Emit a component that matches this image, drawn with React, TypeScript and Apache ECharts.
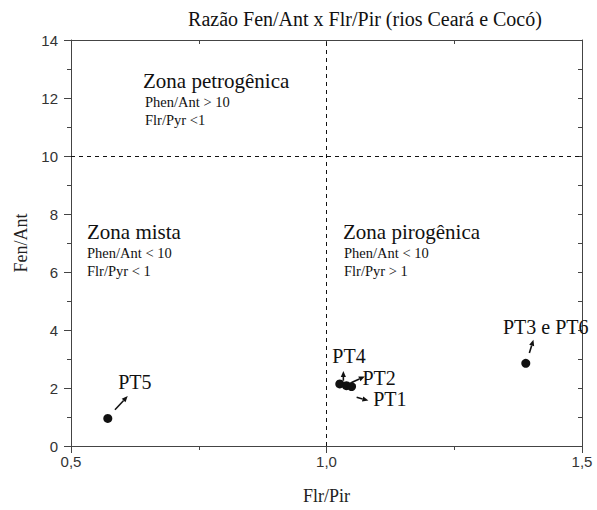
import React, { useEffect, useRef } from "react";
import * as echarts from "echarts";

// ---- data ----
const pointNames = ["PT5", "PT4", "PT1", "PT2", "PT3 e PT6"];
const flrPir = [0.572, 1.026, 1.039, 1.049, 1.39];
const fenAnt = [0.95, 2.14, 2.08, 2.05, 2.85];

const labelNames = ["PT5", "PT4", "PT2", "PT1", "PT3 e PT6"];
const labelX = [0.625, 1.044, 1.103, 1.124, 1.429];
const labelY = [2.19, 3.09, 2.36, 1.63, 4.11];

// arrows: start x, start y, end x, end y
const arrowX1 = [0.586, 1.033, 1.049, 1.059, 1.397];
const arrowY1 = [1.25, 2.25, 2.19, 1.68, 3.21];
const arrowX2 = [0.611, 1.033, 1.075, 1.082, 1.405];
const arrowY2 = [1.72, 2.59, 2.4, 1.57, 3.66];

const xTicks = [0.5, 1.0, 1.5];
const yTicks = [0, 2, 4, 6, 8, 10, 12, 14];
const xLimit = 1.0;
const yLimit = 10;

const SERIF = "Liberation Serif";
const SERIF2 = "Times New Roman";
const SANS = "Liberation Sans";
const AXIS_COLOR = "#444";

function txt(text: string, x: number, y: number, size: number, family: string, align = "left") {
  return {
    type: "text",
    x,
    y,
    style: {
      text,
      fontFamily: family,
      fontSize: size,
      fill: "#111",
      align,
      verticalAlign: "middle",
    },
  };
}

export default function App() {
  const ref = useRef<HTMLDivElement>(null);

  useEffect(() => {
    if (!ref.current) return;
    const chart = echarts.init(ref.current, null, { renderer: "svg" });

    const points = flrPir.map((x, i) => [x, fenAnt[i]]);
    const arrows = arrowX1.map((x, i) => [x, arrowY1[i], arrowX2[i], arrowY2[i]]);
    const labels = labelX.map((x, i) => [x, labelY[i]]);

    const option: any = {
      animation: false,
      backgroundColor: "#fff",
      grid: { left: 71, right: 15, top: 40, bottom: 57, containLabel: false },
      graphic: [
        txt("Razão Fen/Ant x Flr/Pir (rios Ceará e Cocó)", 365, 19, 20, SERIF, "center"),
        txt("Zona petrogênica", 143, 81, 21, SERIF2),
        txt("Phen/Ant > 10", 145, 102, 14.5, SERIF),
        txt("Flr/Pyr <1", 145, 120, 14.5, SERIF),
        txt("Zona mista", 87, 232, 21, SERIF2),
        txt("Phen/Ant < 10", 87, 253, 14.5, SERIF),
        txt("Flr/Pyr < 1", 87, 271, 14.5, SERIF),
        txt("Zona pirogênica", 343, 232, 21, SERIF2),
        txt("Phen/Ant < 10", 344, 253, 14.5, SERIF),
        txt("Flr/Pyr > 1", 344, 271, 14.5, SERIF),
      ],
      xAxis: [
        {
          type: "value",
          position: "bottom",
          min: xTicks[0],
          max: xTicks[xTicks.length - 1],
          interval: 0.5,
          name: "Flr/Pir",
          nameLocation: "middle",
          nameGap: 41,
          nameTextStyle: { fontFamily: SERIF, fontSize: 18, color: "#222" },
          axisLine: { show: true, onZero: false, lineStyle: { color: AXIS_COLOR, width: 1 } },
          axisTick: { show: true, inside: false, length: 7, lineStyle: { color: AXIS_COLOR } },
          minorTick: { show: true, splitNumber: 2, length: 4, lineStyle: { color: AXIS_COLOR } },
          splitLine: { show: false },
          axisLabel: {
            margin: 8,
            fontFamily: SANS,
            fontSize: 15,
            color: "#333",
            formatter: (v: number) => v.toFixed(1).replace(".", ","),
          },
        },
        {
          type: "value",
          position: "top",
          min: xTicks[0],
          max: xTicks[xTicks.length - 1],
          interval: 0.25,
          axisLine: { show: true, onZero: false, lineStyle: { color: AXIS_COLOR, width: 1 } },
          axisTick: { show: true, inside: true, length: 4, lineStyle: { color: AXIS_COLOR } },
          splitLine: { show: false },
          axisLabel: { show: false },
        },
      ],
      yAxis: [
        {
          type: "value",
          position: "left",
          min: yTicks[0],
          max: yTicks[yTicks.length - 1],
          interval: 2,
          name: "Fen/Ant",
          nameLocation: "middle",
          nameGap: 40,
          nameRotate: 90,
          nameTextStyle: { fontFamily: SERIF, fontSize: 18, color: "#222" },
          axisLine: { show: true, onZero: false, lineStyle: { color: AXIS_COLOR, width: 1 } },
          axisTick: { show: true, inside: false, length: 7, lineStyle: { color: AXIS_COLOR } },
          minorTick: { show: true, splitNumber: 2, length: 4, lineStyle: { color: AXIS_COLOR } },
          splitLine: { show: false },
          axisLabel: { margin: 13, fontFamily: SANS, fontSize: 15, color: "#333" },
        },
        {
          type: "value",
          position: "right",
          min: yTicks[0],
          max: yTicks[yTicks.length - 1],
          interval: 1,
          axisLine: { show: true, onZero: false, lineStyle: { color: AXIS_COLOR, width: 1 } },
          axisTick: { show: true, inside: true, length: 4, lineStyle: { color: AXIS_COLOR } },
          splitLine: { show: false },
          axisLabel: { show: false },
        },
      ],
      series: [
        {
          type: "scatter",
          xAxisIndex: 0,
          yAxisIndex: 0,
          data: points,
          symbol: "circle",
          symbolSize: 9,
          itemStyle: { color: "#111", opacity: 1 },
          z: 5,
          markLine: {
            silent: true,
            symbol: ["none", "none"],
            label: { show: false },
            lineStyle: { color: "#111", type: [4, 4], width: 1 },
            data: [{ xAxis: xLimit }, { yAxis: yLimit }],
          },
        },
        {
          type: "custom",
          xAxisIndex: 0,
          yAxisIndex: 0,
          data: arrows,
          dimensions: ["x1", "y1", "x2", "y2"],
          encode: { x: [0, 2], y: [1, 3] },
          renderItem: (params: any, api: any) => {
            const p1 = api.coord([api.value(0), api.value(1)]);
            const p2 = api.coord([api.value(2), api.value(3)]);
            const ang = Math.atan2(p2[1] - p1[1], p2[0] - p1[0]);
            const hl = 6;
            const hw = 2.6;
            const bx = p2[0] - hl * Math.cos(ang);
            const by = p2[1] - hl * Math.sin(ang);
            const nx = -Math.sin(ang);
            const ny = Math.cos(ang);
            return {
              type: "group",
              children: [
                {
                  type: "line",
                  shape: { x1: p1[0], y1: p1[1], x2: bx, y2: by },
                  style: { stroke: "#111", lineWidth: 1.6 },
                },
                {
                  type: "polygon",
                  shape: {
                    points: [
                      [p2[0], p2[1]],
                      [bx + nx * hw, by + ny * hw],
                      [bx - nx * hw, by - ny * hw],
                    ],
                  },
                  style: { fill: "#111" },
                },
              ],
            };
          },
          z: 4,
        },
        {
          type: "custom",
          xAxisIndex: 0,
          yAxisIndex: 0,
          data: labels,
          renderItem: (params: any, api: any) => {
            const p = api.coord([api.value(0), api.value(1)]);
            return {
              type: "text",
              x: p[0],
              y: p[1],
              style: {
                text: labelNames[params.dataIndex],
                fontFamily: "serif",
                fontSize: 20,
                fill: "#111",
                align: "center",
                verticalAlign: "middle",
              },
            };
          },
          z: 4,
        },
      ],
    };

    chart.setOption(option);
    return () => chart.dispose();
  }, []);

  return (
    <div
      ref={ref}
      style={{ position: "fixed", left: 0, top: 0, width: 597, height: 510 }}
    />
  );
}
